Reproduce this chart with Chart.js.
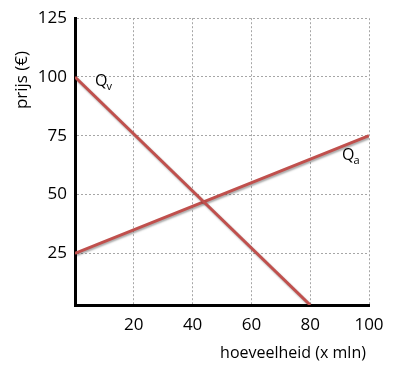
<!DOCTYPE html>
<html>
<head>
<meta charset="utf-8">
<script src="https://cdn.jsdelivr.net/npm/chart.js@4"></script>
<style>
  html, body { margin: 0; padding: 0; background: #fff; }
  #wrap { width: 394px; height: 376px; }
</style>
</head>
<body>
<div id="wrap"><canvas id="chart" width="394" height="376"></canvas></div>
<script>
// data
const qvPoints = [{ x: 0, y: 100 }, { x: 80, y: 3 }];
const qaPoints = [{ x: 0, y: 25 }, { x: 100, y: 75 }];
const xTicks = [0, 20, 40, 60, 80, 100];
const yTicks = [25, 50, 75, 100, 125];
const curveLabels = [
  { main: 'Q', sub: 'v', x: 6.8, y: 96 },
  { main: 'Q', sub: 'a', x: 90.8, y: 64.5 }
];

const FONT = '"Open Sans", sans-serif';
const RED = '#c0504d';

// shadow under the lines
const shadowPlugin = {
  id: 'shadow',
  beforeDatasetsDraw(chart) {
    const ctx = chart.ctx;
    ctx.save();
    ctx.shadowColor = 'rgba(0,0,0,0.35)';
    ctx.shadowBlur = 2;
    ctx.shadowOffsetX = 1;
    ctx.shadowOffsetY = 1.5;
  },
  afterDatasetsDraw(chart) {
    chart.ctx.restore();
  }
};

// axis titles and curve labels
const textPlugin = {
  id: 'texts',
  afterDraw(chart) {
    const ctx = chart.ctx;
    const xs = chart.scales.x, ys = chart.scales.y;
    ctx.save();
    ctx.fillStyle = '#000';
    ctx.font = '16px ' + FONT;
    ctx.textAlign = 'center';
    ctx.textBaseline = 'middle';
    ctx.fillText('hoeveelheid (x mln)', 293, 353);

    ctx.font = '17px ' + FONT;
    ctx.translate(22, 80);
    ctx.rotate(-Math.PI / 2);
    ctx.fillText('prijs (€)', 0, 0);
    ctx.restore();

    ctx.save();
    ctx.fillStyle = '#000';
    ctx.textBaseline = 'alphabetic';
    ctx.textAlign = 'left';
    curveLabels.forEach(l => {
      const px = xs.getPixelForValue(l.x);
      const py = ys.getPixelForValue(l.y);
      ctx.font = '16px ' + FONT;
      ctx.fillText(l.main, px, py);
      const w = ctx.measureText(l.main).width;
      ctx.font = '11px ' + FONT;
      ctx.fillText(l.sub, px + w - 1, py + 4);
    });
    ctx.restore();
  }
};

new Chart(document.getElementById('chart'), {
  type: 'line',
  data: {
    datasets: [
      {
        label: 'Qv',
        data: qvPoints,
        borderColor: RED,
        borderWidth: 3,
        pointRadius: 0,
        tension: 0
      },
      {
        label: 'Qa',
        data: qaPoints,
        borderColor: RED,
        borderWidth: 3,
        pointRadius: 0,
        tension: 0
      }
    ]
  },
  options: {
    responsive: false,
    animation: false,
    layout: { padding: { left: 0, right: 25, top: 17, bottom: 0 } },
    plugins: {
      legend: { display: false },
      tooltip: { enabled: false }
    },
    scales: {
      x: {
        type: 'linear',
        min: 0,
        max: 100,
        afterBuildTicks: s => { s.ticks = xTicks.map(v => ({ value: v })); },
        afterFit: s => { s.height = 71; },
        ticks: {
          color: '#000',
          font: { family: FONT, size: 17 },
          padding: 10,
          maxRotation: 0,
          callback: v => (v === 0 ? '' : v)
        },
        grid: {
          color: '#a6a6a6',
          lineWidth: 1,
          drawTicks: false,
          tickLength: 0
        },
        border: { color: '#000', width: 3, dash: [2, 2] }
      },
      y: {
        type: 'linear',
        min: 3,
        max: 125,
        afterBuildTicks: s => { s.ticks = yTicks.map(v => ({ value: v })); },
        afterFit: s => { s.width = 75; },
        ticks: {
          color: '#000',
          font: { family: FONT, size: 17 },
          padding: 8
        },
        grid: {
          color: '#a6a6a6',
          lineWidth: 1,
          drawTicks: false,
          tickLength: 0
        },
        border: { color: '#000', width: 3, dash: [2, 2] }
      }
    }
  },
  plugins: [shadowPlugin, textPlugin]
});
</script>
</body>
</html>
